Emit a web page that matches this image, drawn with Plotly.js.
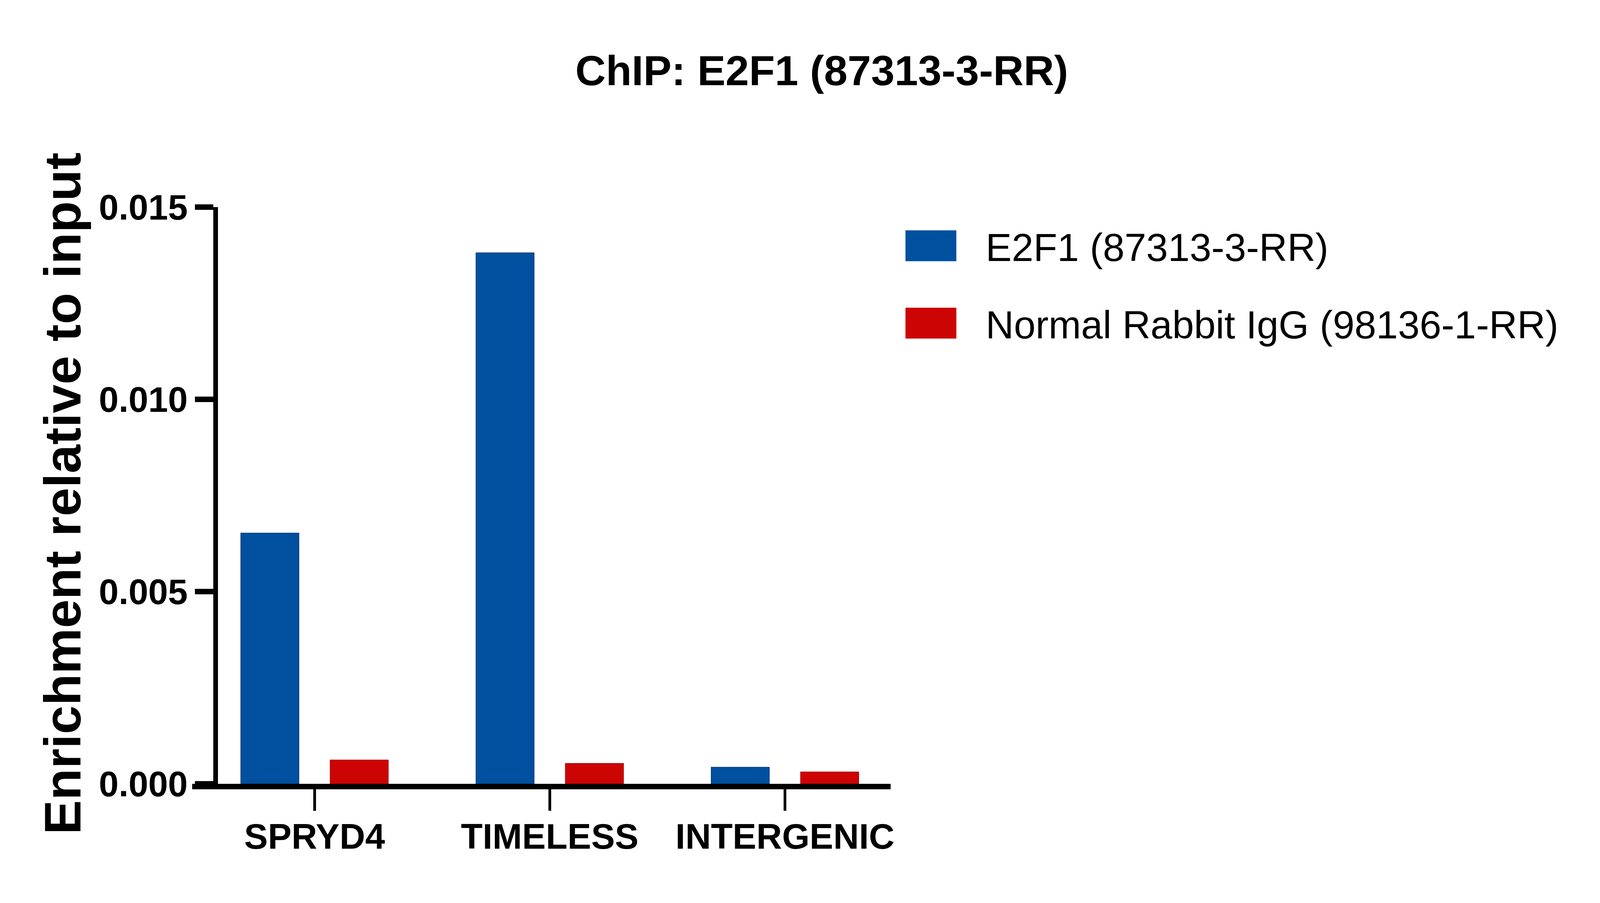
<!DOCTYPE html>
<html>
<head>
<meta charset="utf-8">
<script src="https://cdn.plot.ly/plotly-3.0.1.min.js"></script>
<style>
  html, body { margin: 0; padding: 0; background: #ffffff; overflow: hidden; }
</style>
</head>
<body>
<div id="chart"></div>
<script>
/***********
  DATA
************/

// Promoter regions on the x axis
const categories = ['SPRYD4', 'TIMELESS', 'INTERGENIC'];

// Enrichment relative to input
const e2f1Values = [0.00652, 0.01381, 0.00043];
const iggValues = [0.00062, 0.00053, 0.00031];

const seriesNames = ['E2F1 (87313-3-RR)', 'Normal Rabbit IgG (98136-1-RR)'];

// Y axis ticks
const yTickValues = [0, 0.005, 0.010, 0.015];
const yTickLabels = ['0.000', '0.005', '0.010', '0.015'];

/***********
  FUNCTIONS
************/

function drawChart() {
  // Design sizes are pixels of the 5000x2311 original; kx / ky fit them to the window
  const RW = 5000, RH = 2311;
  const W = window.innerWidth || RW;
  const H = window.innerHeight || RH;
  const kx = W / RW, ky = H / RH;
  const fontFamily = '"Liberation Sans", Arial, Helvetica, sans-serif';

  let traceE2F1 = {
    type: 'bar',
    name: seriesNames[0],
    x: categories,
    y: e2f1Values,
    legendgroup: 'a',
    marker: { color: '#0050A0', line: { color: '#00357A', width: 2 * kx } }
  };

  let traceIgG = {
    type: 'bar',
    name: seriesNames[1],
    x: categories,
    y: iggValues,
    legendgroup: 'b',
    marker: { color: '#CC0404', line: { color: '#B00000', width: 2 * kx } }
  };

  let plotData = [traceE2F1, traceIgG];

  // Legend placement: first row centred at y = 628 of the original
  const legendFont = 122 * kx;
  const legendItemH = legendFont * 1.3 + 3;
  const legendTop = 628 * ky - 86 * kx;

  let layout = {
    width: W,
    height: H,
    margin: { l: 0, r: 0, t: 0, b: 0 },
    paper_bgcolor: '#ffffff',
    plot_bgcolor: '#ffffff',
    font: { family: fontFamily, color: '#000000' },
    barmode: 'group',
    bargap: 0.24,
    bargroupgap: 0.35,
    showlegend: true,
    title: {
      text: 'ChIP: E2F1 (87313-3-RR)',
      font: { size: 132 * kx, weight: 'bold', family: fontFamily, color: '#000000' },
      x: 2568 / RW,
      xref: 'paper',
      xanchor: 'center',
      y: 1 - 180 / RH,
      yref: 'container',
      yanchor: 'middle'
    },
    xaxis: {
      domain: [600 / RW, 2783 / RW],
      range: [-0.521, 2.449],
      showline: true,
      linecolor: '#000000',
      linewidth: 14 * ky,
      ticks: 'outside',
      ticklen: 55 * ky,
      tickwidth: 9 * kx,
      tickcolor: '#000000',
      ticklabelstandoff: -12 * ky,
      tickfont: { size: 111 * kx, weight: 'bold', family: fontFamily, color: '#000000' },
      showgrid: false,
      zeroline: false,
      fixedrange: true
    },
    yaxis: {
      domain: [(RH - 2006) / RH, (RH - 530) / RH],
      range: [0, 0.015],
      anchor: 'free',
      position: 673 / RW,
      showline: true,
      linecolor: '#000000',
      linewidth: 14 * kx,
      ticks: 'outside',
      ticklen: 58 * kx,
      tickwidth: 14 * ky,
      tickcolor: '#000000',
      tickvals: yTickValues,
      ticktext: yTickLabels,
      tickfont: { size: 111 * kx, weight: 'bold', family: fontFamily, color: '#000000' },
      showgrid: false,
      zeroline: false,
      fixedrange: true
    },
    legend: {
      x: 2738 / RW,
      y: 1 - legendTop / H,
      xanchor: 'left',
      yanchor: 'top',
      font: { size: legendFont, family: fontFamily, color: '#000000' },
      itemwidth: 330 * kx,
      tracegroupgap: Math.max(0, 198 * ky - legendItemH),
      bgcolor: 'rgba(0,0,0,0)',
      borderwidth: 0
    },
    annotations: [{
      // rotated title runs vertically, so its length follows the height scale
      text: 'Enrichment relative to input',
      textangle: -90,
      xref: 'paper',
      yref: 'paper',
      x: 195 / RW,
      y: 1 - 1263 / RH,
      xanchor: 'center',
      yanchor: 'middle',
      showarrow: false,
      font: { size: 132 * ky, weight: 'bold', family: fontFamily, color: '#000000' }
    }]
  };

  Plotly.newPlot('chart', plotData, layout, { staticPlot: true }).then(function (gd) {
    // Enlarge the legend swatches to the wide blocks of the original
    const hw = 79.5 * kx, hh = 39.5 * ky;
    gd.querySelectorAll('.legend .legendpoints path').forEach(function (p) {
      p.setAttribute('d', 'M' + hw + ',' + hh + 'H' + (-hw) + 'V' + (-hh) + 'H' + hw + 'Z');
      p.style.strokeWidth = '0px';
    });
  });
}

/***********
  INIT
************/
drawChart();
</script>
</body>
</html>
